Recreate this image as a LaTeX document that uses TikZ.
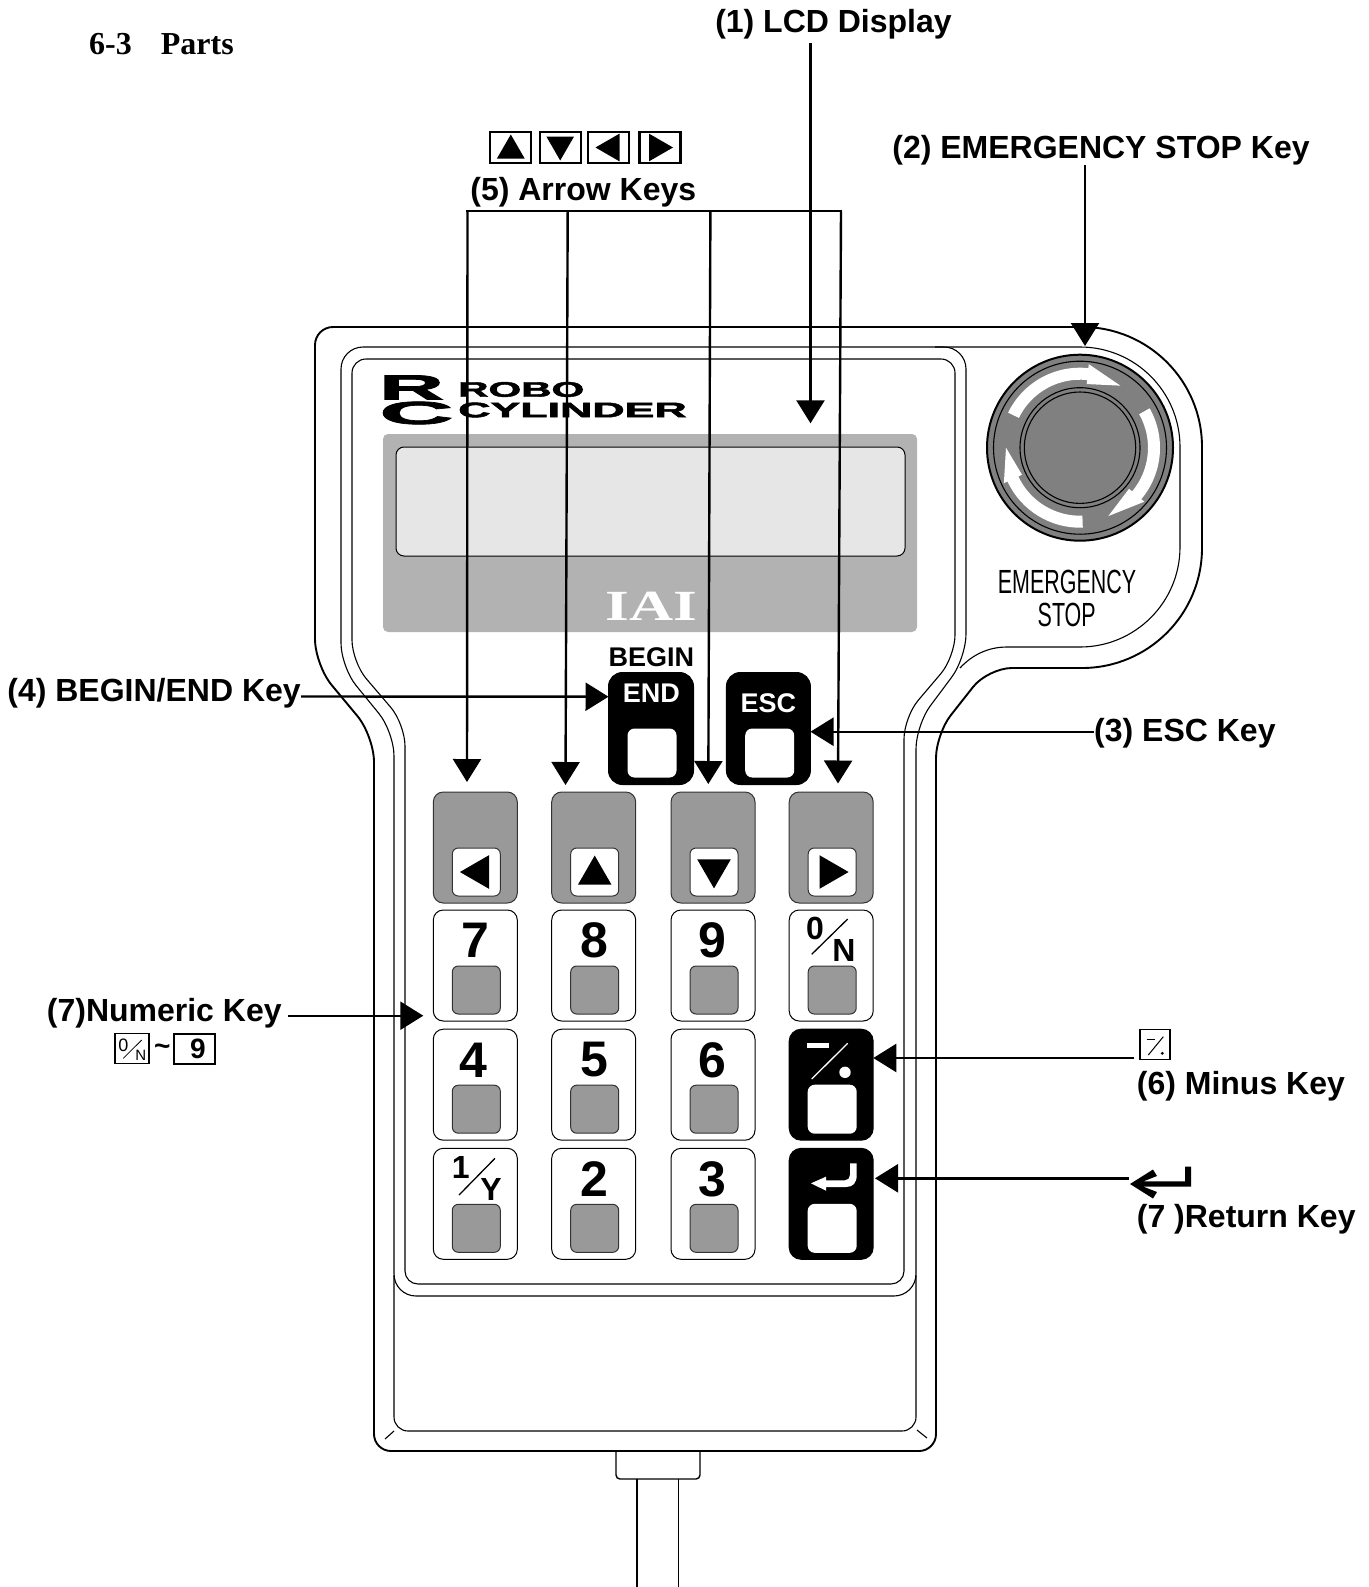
\documentclass[tikz,border=0pt]{standalone}
\usepackage{fontspec}
\setmainfont{Liberation Serif}
\setsansfont{Liberation Sans}
\usetikzlibrary{arrows.meta,calc}
\newfontfamily\logofont[FakeBold=2]{Liberation Sans Bold}
\definecolor{keygray}{RGB}{153,153,153}
\definecolor{stopgray}{RGB}{128,128,128}
\definecolor{lcdgray}{RGB}{178,178,178}
\definecolor{lcdlight}{RGB}{230,230,230}
\newcommand{\fsz}[1]{\fontsize{#1}{#1}\selectfont}
\newcommand{\keytri}[3]{\fill ($(#1)+(#3+180:3pt)+(#3:#2pt)$) -- ($(#1)+(#3+180:3pt)+(#3+120:#2pt)$) -- ($(#1)+(#3+180:3pt)+(#3+240:#2pt)$) -- cycle;}
\begin{document}
\begin{tikzpicture}[x=1pt,y=-1pt,
    shell/.style={draw=black,line width=1.9pt,line join=round},
    thin line/.style={draw=black,line width=1.1pt,line join=round},
    lbl/.style={font=\sffamily\bfseries\fsz{32},inner sep=0pt},
    callout/.style={draw=black,line width=2.4pt,-{Triangle[length=23pt,width=28pt]}},
    keyshape/.style={minimum width=84pt,minimum height=111pt,inner sep=0pt,
                rounded corners=10pt,line width=1pt},
    keygrey/.style={keyshape,draw=black!80,fill=keygray},
    keyplain/.style={keyshape,draw=black,fill=white},
    keydark/.style={keyshape,draw=black,fill=black,rounded corners=12pt},
    capshape/.style={minimum size=48pt,inner sep=0pt,rounded corners=6pt,line width=1pt},
    capgrey/.style={capshape,draw=black!80,fill=keygray},
    capwhite/.style={capshape,draw=black!80,fill=white},
    capdark/.style={capshape,fill=white},
    digit/.style={font=\sffamily\bfseries\fsz{50},inner sep=0pt},
    fracpart/.style={font=\sffamily\bfseries\fsz{32},inner sep=0pt},
    legendbox/.style={draw=black,line width=2.2pt,fill=white,inner sep=0pt}]
  \useasboundingbox (0,0) rectangle (1368,1587);

  % housing
  \draw[shell] (600,327) [rounded corners=18pt] -- (315,327) [rounded corners=26pt] -- (315,665)
    -- (374,736) [rounded corners=17pt] -- (374,1451) -- (936,1451) [rounded corners=24pt] -- (936,734)
    -- (988,668) [rounded corners=120pt] -- (1202,668) -- (1202,327) [sharp corners] -- (600,327);
  \draw[thin line] (600,347) [rounded corners=22pt] -- (341,347) [rounded corners=24pt] -- (341,667)
    -- (394,732) [rounded corners=22pt] -- (394,1296) -- (916,1296) [rounded corners=24pt] -- (916,725)
    -- (966,658) [rounded corners=22pt] -- (966,347) [sharp corners] -- (600,347);
  \draw[thin line] (600,359) [rounded corners=14pt] -- (352,359) [rounded corners=22pt] -- (352,662)
    -- (405,724) [rounded corners=13pt] -- (405,1284) -- (904,1284) [rounded corners=22pt] -- (904,717)
    -- (955,657) [rounded corners=14pt] -- (955,359) [sharp corners] -- (600,359);
  \draw[thin line] (935,347) [rounded corners=100pt] -- (1180,347) -- (1180,647) [sharp corners]
    -- (1007,647) .. controls (988,647) and (972,655) .. (960,668);
  \draw[thin line] (394,1275) [rounded corners=14pt] -- (394,1431) -- (916,1431) [sharp corners] -- (916,1275);
  \draw[thin line] (385,1439) -- (394,1431);
  \draw[thin line] (917,1430) -- (927,1438);
  \draw[shell,line width=1.4pt,rounded corners=4pt] (616,1451) -- (616,1479) -- (700,1479) -- (700,1451);
  \draw[shell,line width=1.4pt] (637,1479) -- (637,1587);
  \draw[shell,line width=1.4pt] (678.5,1479) -- (678.5,1587);

  % logo
  \node[inner sep=0pt] (logor) at (411.5,387.5) {\scalebox{2.56}[1]{\logofont\fsz{35}R}};
  \node[inner sep=0pt] (logoc) at (416.5,413) {\scalebox{3.2}[1]{\logofont\fsz{32}C}};
  \node[inner sep=0pt,anchor=west] (logoa) at (458,389.5) {\scalebox{2}[1]{\logofont\fsz{21}ROBO}};
  \node[inner sep=0pt,anchor=west] (logob) at (458,410) {\scalebox{2.13}[1]{\logofont\fsz{21}CYLINDER}};

  % display
  \node[fill=lcdgray,rounded corners=5pt,minimum width=534pt,minimum height=198pt,inner sep=0pt] (bezel) at (650,533) {};
  \node[draw=black,line width=1pt,fill=lcdlight,rounded corners=8pt,minimum width=509pt,minimum height=109pt,inner sep=0pt] (lcd) at (650.5,501.5) {};
  \node[text=white,inner sep=0pt] (iai) at (651.4,606.5) {\scalebox{1.42}[1]{\rmfamily\bfseries\fsz{43}IAI}};

  % emergency stop
  \node[circle,draw=black,line width=2pt,fill=stopgray,minimum size=186pt,inner sep=0pt] (estop) at (1080,447.7) {};
  \draw[thin line] (estop) circle[radius=86.5pt];
  \foreach \st/\en/\tip in {154/84/57,29.5/-40/-67.5,-88/-155/-180}
    \fill[white] ($(estop)+(\st:68pt)$) arc[start angle=\st,end angle=\en,radius=68pt]
      -- ($(estop)+(\en:64pt)$) -- ($(estop)+(\tip:74pt)$) -- ($(estop)+(\en:84pt)$)
      -- ($(estop)+(\en:80pt)$) arc[start angle=\en,end angle=\st,radius=80pt] -- cycle;
  \draw[thin line] (estop) circle[radius=60pt];
  \draw[thin line] (estop) circle[radius=55.7pt];
  \node[font=\sffamily\fsz{33.5},inner sep=0pt] (stopa) at (1067,582) {\scalebox{.64}[1]{EMERGENCY}};
  \node[font=\sffamily\fsz{33.5},inner sep=0pt] (stopb) at (1066.7,615) {\scalebox{.64}[1]{STOP}};

  % upper keys
  \node[keydark,minimum width=85pt,minimum height=112pt,rounded corners=14pt] (endkey) at (651,728.5) {};
  \node[capdark,minimum width=49pt,minimum height=49pt,rounded corners=7pt] (endcap) at (652,753) {};
  \node[keydark,minimum width=84pt,minimum height=112pt,rounded corners=14pt] (esckey) at (768.4,728.5) {};
  \node[capdark,minimum width=49pt,minimum height=49pt,rounded corners=7pt] (esccap) at (769.7,753) {};
  \node[font=\sffamily\bfseries\fsz{27},text=white,inner sep=0pt] (endtxt) at (651.4,693.3) {END};
  \node[font=\sffamily\bfseries\fsz{27},text=white,inner sep=0pt] (esctxt) at (768.4,703.3) {ESC};
  \node[font=\sffamily\bfseries\fsz{27},inner sep=0pt] (begintxt) at (651.4,656.7) {BEGIN};

  % key pad
  \foreach \k/\x in {l/475.3,u/593.7,d/713,r/831.2}{
    \node[keygrey] (key\k) at (\x,847.5) {};
    \node[capwhite] (cap\k) at ($(\x,872)+(1,0)$) {};}
  \foreach \k/\x/\y in {seven/475.3/965.5,eight/593.7/965.5,nine/713/965.5,zero/831.2/965.5,
      four/475.3/1084.7,five/593.7/1084.7,six/713/1084.7,
      one/475.3/1203.8,two/593.7/1203.8,three/713/1203.8}{
    \node[keyplain] (key\k) at (\x,\y) {};
    \node[capgrey] (cap\k) at ($(\x,\y)+(1,24.5)$) {};}
  \foreach \k/\y in {minus/1084.7,enter/1203.8}{
    \node[keydark] (key\k) at (831.2,\y) {};
    \node[capdark,minimum size=49pt,rounded corners=7pt] (cap\k) at ($(831.2,\y)+(1,24.5)$) {};}
  \keytri{capl}{19.4}{180}
  \keytri{capu}{19.4}{90}
  \keytri{capd}{19.4}{-90}
  \keytri{capr}{19.4}{0}

  \foreach \t/\x/\y in {7/475/940.5,8/594/940.5,9/712.3/940.5,4/473.3/1060,5/594/1060,
      6/712.3/1060,2/594/1179.5,3/712.7/1179.5}
    \node[digit] (dig\t) at (\x,\y) {\t};
  \node[fracpart] (fza) at (815,928.3) {0};
  \node[fracpart] (fzb) at (844,950) {N};
  \draw[line width=1.3pt] (811.7,954.3) -- (847.7,919);
  \node[fracpart] (foa) at (460.7,1167.3) {1};
  \node[fracpart] (fob) at (491,1189.3) {Y};
  \draw[line width=1.3pt] (459,1195) -- (495,1158.3);

  \fill[white] (806.7,1043.3) rectangle (829.3,1048.3);
  \draw[white,line width=1.3pt] (811.7,1079) -- (847.7,1043.3);
  \fill[white] (845,1072.3) circle[radius=5.7pt];
  \fill[white] (850,1163.3) -- (856.7,1163.3) -- (856.7,1175) .. controls (856.7,1183) and (853,1187) .. (846,1187)
    -- (826,1187) -- (826,1190.7) -- (811,1183.3) -- (826,1176.7) -- (826,1180.3) -- (845,1180.3)
    .. controls (848,1180.3) and (850,1178) .. (850,1175) -- cycle;

  % legends
  \foreach \k/\x in {a/510.8,b/560.2,c/608.5,d/660}
    \node[legendbox,minimum width=41pt,minimum height=31pt] (leg\k) at (\x,147.5) {};
  \keytri{lega}{16}{90}
  \keytri{legb}{16}{-90}
  \keytri{legc}{16}{180}
  \keytri{legd}{16}{0}
  \node[legendbox,line width=1.5pt,minimum width=34pt,minimum height=30pt] (numa) at (132,1048.7) {};
  \node[legendbox,line width=1.8pt,minimum width=41pt,minimum height=30pt] (numb) at (194.8,1048.7) {};
  \node[font=\sffamily\fsz{18},inner sep=0pt] (numz) at (123.3,1045) {0};
  \node[font=\sffamily\fsz{15},inner sep=0pt] (numn) at (140.7,1055) {N};
  \draw[line width=.8pt] (123.3,1058.3) -- (141.7,1040);
  \node[font=\sffamily\bfseries\fsz{28},inner sep=0pt] (numt) at (162.3,1049.5) {\textasciitilde};
  \node[font=\sffamily\bfseries\fsz{28},inner sep=0pt] (numnine) at (198,1049.3) {9};
  \node[legendbox,line width=1.3pt,minimum width=30pt,minimum height=30pt] (minbox) at (1155,1044.7) {};
  \draw[line width=1pt] (1146.7,1039.3) -- (1155,1039.3);
  \draw[line width=1pt] (1148.3,1055) -- (1163.3,1036.7);
  \fill (1162.3,1053.3) circle[radius=1.6pt];
  \fill (1153,1169.5) -- (1157,1176) -- (1143.5,1181.3) -- (1185,1181.3) -- (1185,1166.7) -- (1191,1166.7) -- (1191,1186.7)
    -- (1143.5,1186.7) -- (1157,1192) -- (1153,1198.5) -- (1130,1184) -- cycle;

  % labels
  \node[lbl] (lcdlbl) at (833.5,24) {(1) LCD Display};
  \node[lbl] (stoplbl) at (1101,150.5) {(2) EMERGENCY STOP Key};
  \node[lbl] (arrowlbl) at (583.3,192) {(5) Arrow Keys};
  \node[lbl,anchor=east] (beginlbl) at (301,693) {(4) BEGIN/END Key};
  \node[lbl,anchor=west] (esclbl) at (1094,733.5) {(3) ESC Key};
  \node[lbl,anchor=west] (numlbl) at (46.7,1013.7) {(7)Numeric Key};
  \node[lbl,anchor=west] (minlbl) at (1136.7,1086) {(6) Minus Key};
  \node[lbl,anchor=west] (retlbl) at (1136.7,1219.7) {(7 )Return Key};
  \node[font=\rmfamily\bfseries\fsz{32},inner sep=0pt,anchor=west] (title) at (89,44.5) {6-3\hspace*{29pt}Parts};

  % connectors
  \coordinate (lcdtip) at (810.5,423.3);
  \draw[callout] (lcdlbl.south -| lcdtip) ++(0,4) -- (lcdtip);
  \coordinate (stoptip) at (1085,346);
  \draw[callout] (1085,165) -- (stoptip);
  \coordinate (bar) at (467.5,210.7);
  \coordinate (barend) at (841,210.7);
  \draw[line width=2.4pt,line cap=rect] (bar) -- (barend);
  \foreach \a/\b in {bar/{467,782},{567.7,210.7}/{565.5,785},{710.4,210.7}/{708.3,784},barend/{838,783.5}}
    \draw[callout] (\a) -- (\b);
  \draw[callout] (beginlbl.east |- endkey.west) ++(0,-32) -- (608.5,696.7);
  \draw[callout] (esclbl.west |- 0,731.7) -- (810.5,731.7);
  \draw[callout] (288.3,1015.7) -- (423.3,1015.7);
  \draw[callout] (minbox.west |- 0,1058) ++(-5,0) -- (873.3,1058);
  \coordinate (retstart) at (1129,1178.3);
  \draw[callout] (retstart) -- (875,1178.3);
\end{tikzpicture}
\end{document}
